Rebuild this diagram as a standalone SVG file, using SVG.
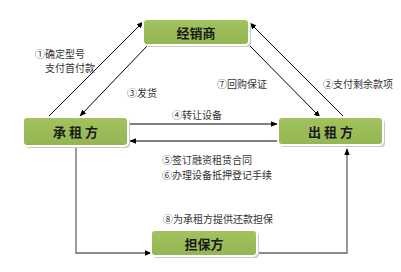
<svg xmlns="http://www.w3.org/2000/svg" width="401" height="272" viewBox="0 0 401 272">
<defs>
<marker id="ah" viewBox="0 0 10 10" refX="9" refY="5" markerWidth="7" markerHeight="7" orient="auto" markerUnits="userSpaceOnUse">
<path d="M0,1 L10,5 L0,9 z" fill="#000"/>
</marker>
<linearGradient id="g" x1="0" y1="0" x2="0" y2="1">
<stop offset="0" stop-color="#a2c35f"/>
<stop offset="1" stop-color="#93b653"/>
</linearGradient>
</defs>
<style>
.box{fill:url(#g);stroke:#fff;stroke-width:2}
.sh{fill:#c9cfc0;stroke:none}
.nt{font-family:"Noto Sans CJK SC",sans-serif;font-size:13px;font-weight:bold;fill:#1a1a1a;text-anchor:middle;dominant-baseline:central}
.lb{font-family:"Noto Sans CJK SC",sans-serif;font-size:10px;fill:#333;dominant-baseline:central}
.ln{fill:none;stroke:#000;stroke-width:1}
.gl{fill:none;stroke:#666;stroke-width:1.3}
</style>
<rect width="401" height="272" fill="#fff"/>
<g id="connectors">
<line class="ln" x1="48" y1="117" x2="143" y2="22" marker-end="url(#ah)"/>
<line class="ln" x1="148" y1="45" x2="80" y2="116" marker-end="url(#ah)"/>
<line class="ln" x1="249" y1="45" x2="320" y2="117" marker-end="url(#ah)"/>
<line class="ln" x1="345" y1="118" x2="250" y2="23" marker-end="url(#ah)"/>
<line class="ln" x1="128" y1="124" x2="277" y2="124" marker-end="url(#ah)"/>
<line class="ln" x1="278" y1="141" x2="130" y2="141" marker-end="url(#ah)"/>
<polyline class="gl" points="76,147 76,253 151,253" marker-end="url(#ah)"/>
<polyline class="gl" points="258,253 347,253 347,149" marker-end="url(#ah)"/>
</g>
<g id="jingxiaoshang">
<rect class="sh" x="145" y="21" width="106" height="26" rx="4"/>
<rect class="box" x="143" y="19" width="106" height="26" rx="4"/>
<text class="nt" x="196" y="32">经销商</text>
</g>
<g id="chengzufang">
<rect class="sh" x="25" y="119" width="105" height="29" rx="4"/>
<rect class="box" x="23" y="117" width="105" height="29" rx="4"/>
<text class="nt" x="75.500" y="131.500">承 租 方</text>
</g>
<g id="chuzufang">
<rect class="sh" x="280" y="119" width="105" height="28" rx="4"/>
<rect class="box" x="278" y="117" width="105" height="28" rx="4"/>
<text class="nt" x="330.500" y="131">出 租 方</text>
</g>
<g id="danbaofang">
<rect class="sh" x="153" y="232" width="106" height="26" rx="4"/>
<rect class="box" x="151" y="230" width="106" height="26" rx="4"/>
<text class="nt" x="204" y="243">担保方</text>
</g>
<g id="labels">
<text class="lb" x="35" y="53">①确定型号</text>
<text class="lb" x="45" y="67.500">支付首付款</text>
<text class="lb" x="127" y="92">③发货</text>
<text class="lb" x="217" y="83">⑦回购保证</text>
<text class="lb" x="323" y="83">②支付剩余款项</text>
<text class="lb" x="172" y="114">④转让设备</text>
<text class="lb" x="162" y="159">⑤签订融资租赁合同</text>
<text class="lb" x="162" y="174">⑥办理设备抵押登记手续</text>
<text class="lb" x="163" y="218">⑧为承租方提供还款担保</text>
</g>
</svg>
